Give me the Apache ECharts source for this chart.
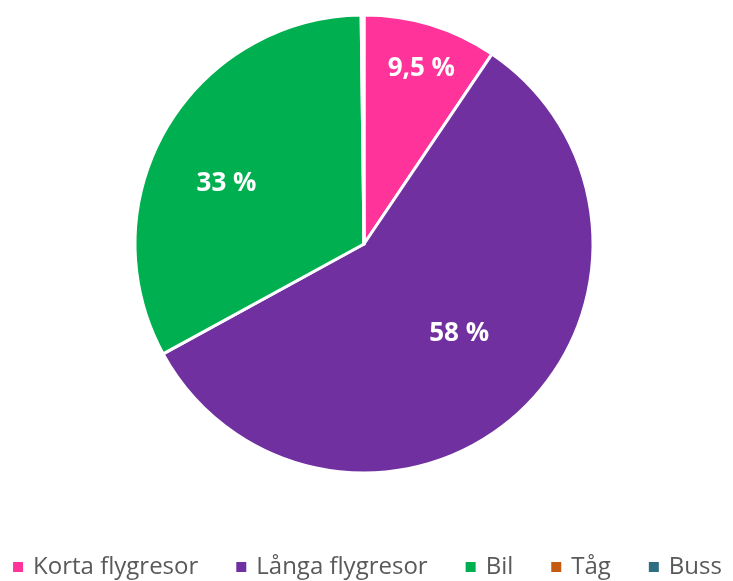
<!DOCTYPE html>
<html><head><meta charset="utf-8">
<script src="https://cdn.jsdelivr.net/npm/echarts@6/dist/echarts.min.js"></script>
<style>html,body{margin:0;padding:0;background:#fff}#c{width:733px;height:581px}</style>
</head><body><div id="c"></div>
<script>
const categories = ['Korta flygresor', 'Långa flygresor', 'Bil', 'Tåg', 'Buss'];
const values = [9.5, 58, 33, 0.1, 0.1];
const labels = ['9,5 %', '58 %', '33 %', '', ''];
const colors = ['#FF3399', '#7030A0', '#00B050', '#C55A11', '#2E6E80'];
const labelOffsets = [[23, -63], [16, 3], [-36, -1], [0, 0], [0, 0]];

const chart = echarts.init(document.getElementById('c'), null, {renderer: 'canvas'});
chart.setOption({
  animation: false,
  color: colors,
  legend: {
    top: 555, left: 'center', width: 733, padding: 0,
    itemWidth: 12, itemHeight: 12, itemGap: 36,
    icon: 'rect',
    textStyle: {fontFamily: 'Open Sans', fontSize: 24, color: '#595959', padding: [0, 0, 0, 4]},
    data: categories
  },
  series: [{
    type: 'pie',
    center: [364, 244],
    radius: [0, 229],
    startAngle: 90,
    clockwise: true,
    avoidLabelOverlap: false,
    itemStyle: {borderColor: '#fff', borderWidth: 3},
    label: {
      position: 'inside', color: '#fff', fontFamily: 'Open Sans', fontWeight: 'bold', fontSize: 26
    },
    labelLine: {show: false},
    data: categories.map((n, i) => ({
      name: n, value: values[i],
      label: {formatter: labels[i], offset: labelOffsets[i], show: labels[i] !== ''}
    }))
  }]
});
</script></body></html>
